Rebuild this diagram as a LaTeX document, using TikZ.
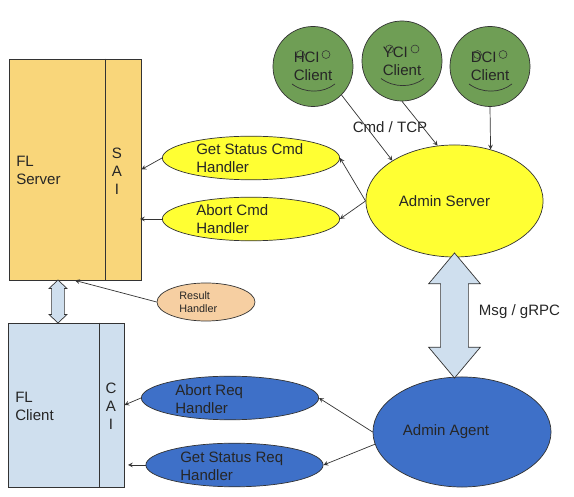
\documentclass[tikz,border=0pt]{standalone}
\usepackage{fontspec}
\setmainfont{Liberation Sans}
\usetikzlibrary{calc}
\usetikzlibrary{shapes.geometric}
\usetikzlibrary{shapes.arrows}

\definecolor{serverfill}{HTML}{F9D67A}
\definecolor{clientfill}{HTML}{CFDFEE}
\definecolor{greenfill}{HTML}{6F9E55}
\definecolor{yellowfill}{HTML}{FFFF33}
\definecolor{bluefill}{HTML}{3E70C8}
\definecolor{resultfill}{HTML}{F6CFA2}
\definecolor{edgegray}{HTML}{333333}

\tikzset{
  lbl/.style={inner sep=0pt, align=left, text=black!85, font=\fontsize{10.7}{12.8}\selectfont},
  smalllbl/.style={inner sep=0pt, align=left, text=black!85, font=\fontsize{7.7}{9.4}\selectfont},
  box/.style={draw=edgegray, line width=0.6pt, inner sep=0pt},
  handler/.style={draw=edgegray, ellipse, inner sep=0pt, line width=0.5pt, minimum width=4.43cm, minimum height=1.09cm},
  client/.style={lbl, draw=edgegray, circle, fill=greenfill, minimum size=2cm, line width=0.5pt},
  flow/.style={->, >=stealth, draw=edgegray, line width=0.5pt},
  link/.style={double arrow, draw=edgegray, fill=clientfill, double arrow head indent=0pt, shape border rotate=90, line width=0.5pt},
}

\begin{document}
\begin{tikzpicture}[x=0.025cm, y=-0.025cm]
\useasboundingbox (0,0) rectangle (574,497);

\node[box, fill=serverfill, minimum width=3.3cm, minimum height=5.525cm] (flserver) at (75,169.5) {};
\node[box, fill=clientfill, minimum width=2.9cm, minimum height=4.1cm] (flclient) at (66,405) {};
\draw[edgegray, line width=0.6pt] (105,0 |- flserver.north) -- (105,0 |- flserver.south);
\draw[edgegray, line width=0.6pt] (99,0 |- flclient.north) -- (99,0 |- flclient.south);
\node[lbl, anchor=west] (flservertxt) at (16,170) {FL\\Server};
\node[lbl, anchor=west] (flclienttxt) at (15,406) {FL\\Client};
\node[lbl, align=center] (sai) at (117,171) {S\\A\\I};
\node[lbl, align=center] (cai) at (111,406.5) {C\\A\\I};

\node[link, inner sep=0.15cm, minimum width=0.43cm, minimum height=1.075cm, double arrow tip angle=93, double arrow head extend=0.065cm] (fllink) at (58,301.5) {};

\node[handler, fill=yellowfill] (getstatus) at (251,158) {};
\node[handler, fill=yellowfill] (abortcmd) at (251,219) {};
\node[handler, fill=bluefill] (abortreq) at (230,398) {};
\node[handler, fill=bluefill] (getreq) at (234.5,465) {};
\node[draw=edgegray, ellipse, fill=resultfill, inner sep=0pt, line width=0.5pt, minimum width=2.45cm, minimum height=0.95cm] (result) at (206,302) {};
\node[lbl, anchor=west] (getstatustxt) at (196,158) {Get Status Cmd\\Handler};
\node[lbl, anchor=west] (abortcmdtxt) at (196,219) {Abort Cmd\\Handler};
\node[lbl, anchor=west] (abortreqtxt) at (175,399) {Abort Req\\Handler};
\node[lbl, anchor=west] (getreqtxt) at (180,466) {Get Status Req\\Handler};
\node[smalllbl, anchor=west] (resulttxt) at (179,302.5) {Result\\Handler};

\node[draw=edgegray, ellipse, fill=yellowfill, inner sep=0pt, line width=0.5pt, minimum width=4.43cm, minimum height=2.8cm] (admin) at (454.5,201) {};
\node[draw=edgegray, ellipse, fill=bluefill, inner sep=0pt, line width=0.5pt, minimum width=4.45cm, minimum height=2.75cm] (agent) at (462,432) {};
\node[lbl] (admintxt) at (444.5,201) {Admin Server};
\node[lbl] (agenttxt) at (446,432) {Admin Agent};

\node[link, inner sep=0.3375cm, minimum width=1.275cm, minimum height=3.125cm, double arrow tip angle=80, double arrow head extend=0.3cm] (adminlink) at (454.5,315.5) {};

\node[client] (hci) at (313,66.5) {HCI\\Client};
\node[client] (yci) at (402,61) {YCI\\Client};
\node[client] (dci) at (490,66.5) {DCI\\Client};
\foreach \c in {hci,yci,dci} {
  \draw[edgegray, line width=0.4pt] ($(\c)+(-12.5,-12)$) circle [radius=4];
  \draw[edgegray, line width=0.4pt] ($(\c)+(13,-12)$) circle [radius=4];
  \draw[edgegray, line width=0.5pt] ($(\c)+(-21,17.5)$) .. controls ($(\c)+(-8,27)$) and ($(\c)+(10,27)$) .. ($(\c)+(22,17.5)$);
}

\draw[flow] (hci.-45) -- (admin.147);
\draw[flow] (yci.-90) -- (admin.107.6);
\draw[flow] (dci.-90) -- (admin.55);
\draw[flow] (admin.180) -- (getstatus.east);
\draw[flow] (admin.180) -- (abortcmd.east);
\coordinate (saiabort) at (140,219);
\coordinate (caiget) at (128,465);
\draw[flow] (getstatus.west) -- (flserver.east);
\draw[flow] (abortcmd.west) -- (saiabort);
\draw[flow] (result.west) -- (flserver.south);
\draw[flow] (agent.west) -- (abortreq.east);
\draw[flow] (agent.188) -- (getreq.east);
\draw[flow] (abortreq.west) -- (flclient.east);
\draw[flow] (getreq.west) -- (caiget);

\node[lbl] (cmdtcp) at (390,127) {Cmd / TCP};
\node[lbl] (msggrpc) at (519.5,312) {Msg / gRPC};
\end{tikzpicture}
\end{document}
